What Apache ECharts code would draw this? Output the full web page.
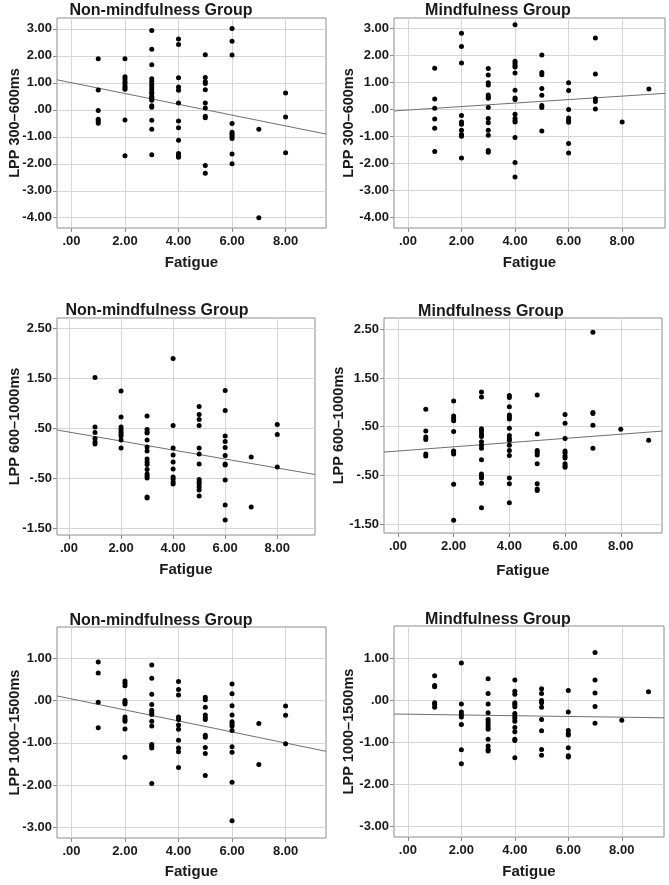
<!DOCTYPE html>
<html>
<head>
<meta charset="utf-8">
<script src="https://cdn.jsdelivr.net/npm/echarts@6/dist/echarts.min.js"></script>
<style>
html,body{margin:0;padding:0;background:#fff;}
#chart{width:669px;height:885px;}
</style>
</head>
<body>
<div id="chart"></div>
<script>
// ---------- DATA ----------
const fatigueLevels = [1, 2, 3, 4, 5, 6, 7, 8, 9];
const xTicks = [0, 2, 4, 6, 8];
const yTicks300 = [-4, -3, -2, -1, 0, 1, 2, 3];
const yTicks600 = [-1.5, -0.5, 0.5, 1.5, 2.5];
const yTicks1000 = [-3, -2, -1, 0, 1];
const groupTitles = ['Non-mindfulness Group', 'Mindfulness Group'];
const yNames = ['LPP 300\u2013600ms', 'LPP 600\u20131000ms', 'LPP 1000\u20131500ms'];
const xName = 'Fatigue';

// LPP values per fatigue level (index 0 -> fatigue 1)
const nonMind300 = [
  [1.89, 0.73, -0.03, -0.35, -0.42, -0.50],
  [1.89, 1.22, 1.15, 1.05, 0.97, 0.88, 0.82, 0.76, -0.38, -1.70],
  [2.94, 2.24, 1.67, 1.15, 1.05, 0.95, 0.85, 0.75, 0.65, 0.60, 0.50, 0.45, 0.40, 0.35, 0.15, 0.09, -0.39, -0.72, -1.67],
  [2.62, 2.42, 1.19, 0.84, 0.72, 0.25, -0.42, -0.67, -1.13, -1.62, -1.70, -1.76],
  [2.04, 1.20, 1.04, 0.97, 0.74, 0.25, 0.07, -0.24, -0.30, -2.06, -2.35],
  [3.01, 2.54, 2.03, -0.51, -0.83, -0.91, -0.98, -1.06, -1.64, -2.00],
  [-0.72, -4.00],
  [0.62, -0.27, -1.59],
  []
];
const mind300 = [
  [1.52, 0.38, 0.04, -0.36, -0.70, -1.56],
  [2.81, 2.32, 1.71, -0.23, -0.47, -0.55, -0.77, -0.93, -0.99, -1.80],
  [1.51, 1.27, 0.98, 0.90, 0.53, 0.45, 0.41, 0.07, -0.34, -0.50, -0.77, -0.96, -1.52, -1.58],
  [3.12, 1.77, 1.69, 1.61, 1.56, 1.34, 0.70, 0.42, 0.36, -0.18, -0.33, -0.42, -0.47, -1.04, -1.96, -2.50],
  [2.00, 1.36, 1.28, 0.77, 0.52, 0.14, 0.07, -0.80],
  [0.98, 0.69, -0.01, -0.32, -0.41, -0.48, -1.26, -1.61],
  [2.63, 1.30, 0.39, 0.29, 0.01],
  [-0.47],
  [0.75]
];
const nonMind600 = [
  [1.52, 0.53, 0.42, 0.30, 0.23, 0.19],
  [1.25, 0.73, 0.53, 0.48, 0.43, 0.39, 0.35, 0.27, 0.11],
  [0.75, 0.48, 0.43, 0.41, 0.27, 0.13, 0.05, -0.11, -0.17, -0.22, -0.32, -0.41, -0.45, -0.49, -0.87, -0.89],
  [1.90, 0.56, 0.11, -0.03, -0.17, -0.31, -0.47, -0.51, -0.57, -0.61],
  [0.94, 0.78, 0.68, 0.56, 0.11, -0.01, -0.21, -0.52, -0.57, -0.61, -0.67, -0.73, -0.85],
  [1.26, 0.86, 0.35, 0.24, 0.12, -0.04, -0.21, -0.23, -0.53, -1.03, -1.33],
  [-0.07, -1.07],
  [0.58, 0.38, -0.27],
  []
];
const mind600 = [
  [0.86, 0.41, 0.29, 0.24, -0.06, -0.10],
  [1.03, 0.72, 0.67, 0.62, 0.40, 0.00, -0.02, -0.06, -0.68, -1.42],
  [1.21, 1.11, 0.46, 0.41, 0.35, 0.30, 0.19, 0.12, 0.06, -0.18, -0.47, -0.52, -0.55, -0.66, -1.16],
  [1.14, 1.10, 0.91, 0.74, 0.70, 0.66, 0.47, 0.32, 0.26, 0.22, 0.12, 0.01, -0.09, -0.55, -0.67, -1.06],
  [1.15, 0.35, 0.01, -0.03, -0.08, -0.26, -0.67, -0.78, -0.81],
  [0.75, 0.57, 0.26, 0.00, -0.04, -0.10, -0.14, -0.26, -0.30, -0.33],
  [2.44, 0.79, 0.77, 0.53, 0.06],
  [0.45],
  [0.22]
];
const nonMind1000 = [
  [0.91, 0.65, -0.04, -0.64],
  [0.46, 0.41, 0.35, 0.00, -0.04, -0.08, -0.39, -0.44, -0.49, -0.67, -1.34],
  [0.84, 0.53, 0.15, -0.09, -0.23, -0.28, -0.33, -0.49, -0.60, -1.04, -1.08, -1.12, -1.96],
  [0.45, 0.26, 0.13, -0.39, -0.45, -0.58, -0.68, -0.94, -1.12, -1.21, -1.58],
  [0.08, 0.02, -0.16, -0.34, -0.40, -0.45, -0.82, -0.87, -1.11, -1.25, -1.77],
  [0.39, 0.16, -0.12, -0.34, -0.50, -0.55, -0.60, -0.71, -1.09, -1.22, -1.93, -2.84],
  [-0.54, -1.51],
  [-0.13, -0.35, -1.02],
  []
];
const mind1000 = [
  [0.58, 0.35, 0.32, -0.06, -0.10, -0.17],
  [0.88, -0.09, -0.28, -0.34, -0.40, -0.58, -1.18, -1.51],
  [0.51, 0.16, -0.09, -0.30, -0.46, -0.52, -0.58, -0.64, -0.69, -0.93, -1.09, -1.17, -1.21],
  [0.48, 0.21, 0.14, -0.06, -0.10, -0.16, -0.32, -0.37, -0.43, -0.50, -0.65, -0.75, -0.93, -0.96, -1.37],
  [0.27, 0.16, -0.01, -0.06, -0.17, -0.46, -0.73, -1.17, -1.31],
  [0.23, -0.28, -0.72, -0.80, -0.83, -1.13, -1.32, -1.35],
  [1.13, 0.48, 0.17, -0.15, -0.55],
  [-0.48],
  [0.20]
];

// Fit lines (endpoints read at the plot edges)
const fitNonMind300 = [[-0.54, 1.11], [9.51, -0.90]];
const fitMind300 = [[-0.52, -0.06], [9.60, 0.59]];
const fitNonMind600 = [[-0.46, 0.47], [9.45, -0.42]];
const fitMind600 = [[-0.50, -0.02], [9.48, 0.41]];
const fitNonMind1000 = [[-0.54, 0.11], [9.51, -1.20]];
const fitMind1000 = [[-0.52, -0.33], [9.58, -0.42]];

// ---------- LAYOUT (positions / ranges) ----------
const panels = [
  {values: nonMind300, fit: fitNonMind300, title: groupTitles[0], yName: yNames[0], yTicks: yTicks300,
   left: 57, top: 18, width: 269, height: 210, xMin: -0.54, xMax: 9.51, yMin: -4.38, yMax: 3.40,
   titleX: 161, titleY: 3, yGap: 35, xGap: 27},
  {values: mind300, fit: fitMind300, title: groupTitles[1], yName: yNames[0], yTicks: yTicks300,
   left: 394, top: 18, width: 271, height: 210, xMin: -0.52, xMax: 9.60, yMin: -4.38, yMax: 3.37,
   titleX: 498, titleY: 3, yGap: 38, xGap: 27},
  {values: nonMind600, fit: fitNonMind600, title: groupTitles[0], yName: yNames[1], yTicks: yTicks600,
   left: 57, top: 318, width: 258, height: 217, xMin: -0.46, xMax: 9.45, yMin: -1.63, yMax: 2.71,
   titleX: 157, titleY: 303, yGap: 35, xGap: 27},
  {values: mind600, fit: fitMind600, title: groupTitles[1], yName: yNames[1], yTicks: yTicks600,
   left: 384, top: 318, width: 278, height: 215, xMin: -0.50, xMax: 9.48, yMin: -1.68, yMax: 2.73,
   titleX: 491, titleY: 304, yGap: 38, xGap: 30},
  {values: nonMind1000, fit: fitNonMind1000, title: groupTitles[0], yName: yNames[2], yTicks: yTicks1000,
   left: 57, top: 627, width: 269, height: 211, xMin: -0.54, xMax: 9.51, yMin: -3.25, yMax: 1.74,
   titleX: 161, titleY: 613, yGap: 35, xGap: 26},
  {values: mind1000, fit: fitMind1000, title: groupTitles[1], yName: yNames[2], yTicks: yTicks1000,
   left: 394, top: 626, width: 270, height: 211, xMin: -0.52, xMax: 9.58, yMin: -3.25, yMax: 1.76,
   titleX: 498, titleY: 612, yGap: 38, xGap: 27}
];

// ---------- STYLE ----------
const FONT = '"Liberation Sans", Arial, sans-serif';
const TEXT = '#1a1a1a';
const FRAME = '#8c8c8c';
const GRIDLINE = '#d6d6d6';

function spssFmt(v) {
  let s = Math.abs(v).toFixed(2);
  if (s.charAt(0) === '0') s = s.slice(1);
  return (v < 0 ? '-' : '') + s;
}

const option = {
  animation: false,
  backgroundColor: '#fff',
  title: [], grid: [], xAxis: [], yAxis: [], series: []
};

panels.forEach((p, i) => {
  option.title.push({
    text: p.title, left: p.titleX, top: p.titleY, textAlign: 'center', padding: 0,
    textStyle: {fontFamily: FONT, fontSize: 16, fontWeight: 'bold', color: TEXT}
  });
  option.grid.push({
    left: p.left, top: p.top, width: p.width, height: p.height,
    show: true, borderColor: FRAME, borderWidth: 1, backgroundColor: 'transparent',
    containLabel: false, outerBoundsMode: 'none'
  });
  option.xAxis.push({
    type: 'value', gridIndex: i, min: p.xMin, max: p.xMax,
    name: xName, nameLocation: 'middle', nameGap: p.xGap, nameMoveOverlap: false,
    nameTextStyle: {fontFamily: FONT, fontSize: 15, fontWeight: 'bold', color: TEXT},
    axisLine: {show: false, onZero: false},
    axisTick: {show: true, length: 4, inside: false, customValues: xTicks, lineStyle: {color: FRAME}},
    axisLabel: {customValues: xTicks, formatter: spssFmt, margin: 7,
      fontFamily: FONT, fontSize: 13, fontWeight: 'bold', color: TEXT},
    splitLine: {show: true, lineStyle: {color: GRIDLINE, width: 1}}
  });
  option.yAxis.push({
    type: 'value', gridIndex: i, min: p.yMin, max: p.yMax,
    name: p.yName, nameLocation: 'middle', nameRotate: 90, nameGap: p.yGap, nameMoveOverlap: false,
    nameTextStyle: {fontFamily: FONT, fontSize: 14.5, fontWeight: 'bold', color: TEXT},
    axisLine: {show: false, onZero: false},
    axisTick: {show: true, length: 4, inside: false, customValues: p.yTicks, lineStyle: {color: FRAME}},
    axisLabel: {customValues: p.yTicks, formatter: spssFmt, margin: 5,
      fontFamily: FONT, fontSize: 13, fontWeight: 'bold', color: TEXT},
    splitLine: {show: true, lineStyle: {color: GRIDLINE, width: 1}}
  });
  const pts = [];
  p.values.forEach((vals, k) => {
    vals.forEach(v => pts.push([fatigueLevels[k], v]));
  });
  option.series.push({
    type: 'line', xAxisIndex: i, yAxisIndex: i, data: p.fit,
    symbol: 'none', silent: true, z: 2, clip: true,
    lineStyle: {color: '#707070', width: 1}
  });
  option.series.push({
    type: 'scatter', xAxisIndex: i, yAxisIndex: i, data: pts,
    symbol: 'circle', symbolSize: 5, z: 3,
    itemStyle: {color: '#000', opacity: 1}
  });
});

const chart = echarts.init(document.getElementById('chart'), null, {renderer: 'canvas'});
chart.setOption(option);
</script>
</body>
</html>
